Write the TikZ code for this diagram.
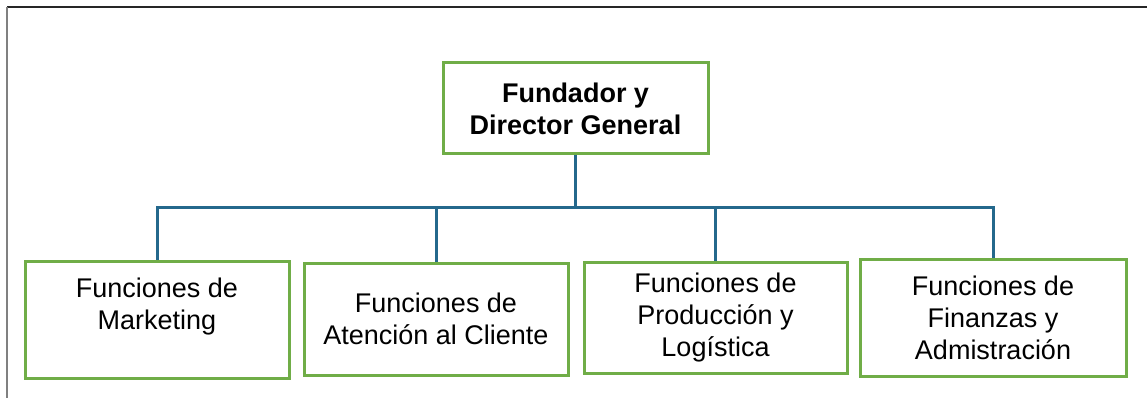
\documentclass[tikz,border=0pt]{standalone}
\usepackage{fontspec}
\setmainfont{Liberation Sans}
\definecolor{boxgreen}{RGB}{112,173,71}
\definecolor{linkblue}{RGB}{36,104,140}
\begin{document}
\begin{tikzpicture}[x=1pt,y=-1pt,
  orgbox/.style={draw=boxgreen, line width=3pt, fill=white, align=center,
    inner sep=0pt, font=\fontsize{27}{32}\selectfont},
  link/.style={draw=linkblue, line width=3pt}]
\useasboundingbox (0,0) rectangle (1147,398);
\draw[black!85, line width=2pt] (7,7) -- (1147,7);
\draw[gray, line width=2pt] (7,7) -- (7,398);
\node[orgbox, minimum width=265pt, minimum height=91pt, font=\fontsize{27}{32}\selectfont\bfseries] (top) at (575.5,108.5) {Fundador y\\Director General};
\node[orgbox, minimum width=264pt, minimum height=117pt] (b1) at (157,319.5) {Funciones de\\Marketing\\\mbox{}};
\node[orgbox, minimum width=264pt, minimum height=112pt] (b2) at (436,319) {Funciones de\\Atención al Cliente};
\node[orgbox, minimum width=263pt, minimum height=111pt, text depth=6pt] (b3) at (715.5,317.5) {Funciones de\\Producción y\\Logística};
\node[orgbox, minimum width=266pt, minimum height=117pt] (b4) at (993,317.5) {Funciones de\\Finanzas y\\Admistración};
\coordinate (bus) at (575.5,207);
\draw[link] (top.south) -- (bus);
\draw[link] (b1.north) -- (b1.north |- bus) -- (b4.north |- bus) -- (b4.north);
\draw[link] (b2.north) -- (b2.north |- bus);
\draw[link] (b3.north) -- (b3.north |- bus);
\end{tikzpicture}
\end{document}
